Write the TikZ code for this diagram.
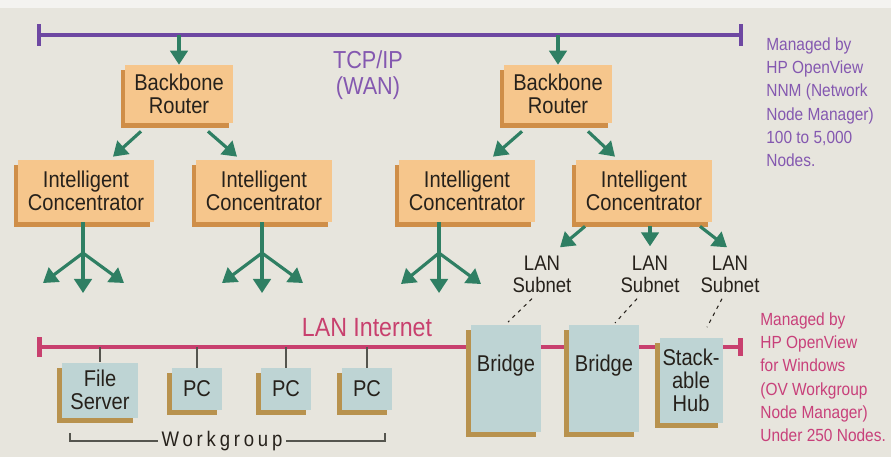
\documentclass[tikz,border=0pt]{standalone}
\usepackage{fontspec}
\setmainfont{Liberation Sans}[FakeStretch=0.88]
\newfontfamily\spacedfont{Liberation Sans}[FakeStretch=0.88,LetterSpace=18]
\usepackage{xcolor}
\usetikzlibrary{arrows.meta,calc,shadows}
\definecolor{pagegrey}{HTML}{E7E5DD}
\definecolor{routerorange}{HTML}{F6C68C}
\definecolor{routershade}{HTML}{CF8E48}
\definecolor{hostblue}{HTML}{BED4D4}
\definecolor{hostshade}{HTML}{B8924E}
\definecolor{arrowteal}{HTML}{2F7F63}
\definecolor{wanpurple}{HTML}{6E48A2}
\definecolor{notepurple}{HTML}{8458B0}
\definecolor{lancrimson}{HTML}{C8406E}
\definecolor{notecrimson}{HTML}{C8407A}
\definecolor{inkbrown}{HTML}{26211B}
\definecolor{stubgrey}{HTML}{55554E}
\newcommand\diagboxfont{\fontsize{13}{13}\selectfont}
\tikzset{
	orangebox/.style={
			fill=routerorange, text=inkbrown, align=center, inner sep=0pt,
			font=\diagboxfont,
			general shadow={fill=routershade, shadow xshift=-0.08cm, shadow yshift=-0.1cm}
		},
	bluebox/.style={
			fill=hostblue, text=inkbrown, align=center, inner sep=0pt,
			font=\diagboxfont,
			general shadow={fill=hostshade, shadow xshift=-0.1cm, shadow yshift=-0.1cm}
		},
	trunk/.style={draw=arrowteal, line width=1.8pt},
	feed/.style={trunk, -{Triangle[length=8pt,width=10pt]}},
	wanbus/.style={draw=wanpurple, line width=2.3pt, {Bar[width=12pt]}-{Bar[width=12pt]}},
	lanbus/.style={draw=lancrimson, line width=2.6pt, {Bar[width=11pt]}-{Bar[width=10pt]}},
	stub/.style={draw=stubgrey, line width=1.1pt},
	subnetlink/.style={draw=inkbrown, line width=0.6pt, dash pattern=on 2pt off 2.5pt},
	sidenote/.style={align=left, inner sep=0pt, anchor=north west, font=\fontsize{10}{13.3}\selectfont}
}

\begin{document}
\begin{tikzpicture}[x=0.02cm, y=-0.02cm]
    \useasboundingbox (0,0) rectangle (891,457);
    \fill[pagegrey] (0,0) rectangle (891,457);
    \fill[white!55!pagegrey] (0,0) rectangle (891,8);
    \coordinate (wan-l) at (37,35);
    \coordinate (wan-r) at (743,35);
    \coordinate (lan-l) at (37,347);
    \coordinate (lan-r) at (743,347);
    \draw[wanbus] (wan-l) -- (wan-r);
    \draw[lanbus] (lan-l) -- (lan-r);
    \node[text=notepurple, align=center, inner sep=0pt, font=\fontsize{14}{14.5}\selectfont] (wan) at (368,75) {TCP/IP\\(WAN)};
    \node[text=lancrimson, inner sep=0pt, font=\fontsize{15}{15}\selectfont] (lanlbl) at (367,328) {LAN Internet};
    \node[sidenote, text=notepurple] (nnm) at (766,37) {Managed by\\HP OpenView\\NNM (Network\\Node Manager)\\100 to 5,000\\Nodes.};
    \node[sidenote, text=notecrimson] (ovw) at (760,312) {Managed by\\HP OpenView\\for Windows\\(OV Workgroup\\Node Manager)\\Under 250 Nodes.};
    \node[orangebox, minimum width=2.16cm, minimum height=1.16cm] (br1) at (179,94) {Backbone\\Router};
    \node[orangebox, minimum width=2.16cm, minimum height=1.16cm] (br2) at (558,94) {Backbone\\Router};
    \node[orangebox, minimum width=2.72cm, minimum height=1.24cm] (ic1) at (86,191) {Intelligent\\Concentrator};
    \node[orangebox, minimum width=2.72cm, minimum height=1.24cm] (ic2) at (264,191) {Intelligent\\Concentrator};
    \node[orangebox, minimum width=2.72cm, minimum height=1.24cm] (ic3) at (467,191) {Intelligent\\Concentrator};
    \node[orangebox, minimum width=2.72cm, minimum height=1.24cm] (ic4) at (644,191) {Intelligent\\Concentrator};
    \node[align=center, inner sep=0pt, text=inkbrown, font=\fontsize{12}{12.5}\selectfont] (ls1) at (542,274) {LAN\\Subnet};
    \node[align=center, inner sep=0pt, text=inkbrown, font=\fontsize{12}{12.5}\selectfont] (ls2) at (650,274) {LAN\\Subnet};
    \node[align=center, inner sep=0pt, text=inkbrown, font=\fontsize{12}{12.5}\selectfont] (ls3) at (730,274) {LAN\\Subnet};
    \node[bluebox, minimum width=1.4cm, text height=0.92cm, text depth=1.22cm, anchor=north] (bg1) at (506,325) {Bridge};
    \node[bluebox, minimum width=1.4cm, text height=0.92cm, text depth=1.22cm, anchor=north] (bg2) at (604,325) {Bridge};
    \node[bluebox, minimum width=1.26cm, minimum height=1.7cm] (hub) at (691,380) {Stack-\\able\\Hub};
    \node[bluebox, minimum width=1.52cm, minimum height=1.1cm] (fs) at (100,390) {File\\Server};
    \node[bluebox, minimum width=1.0cm, minimum height=0.84cm] (pc1) at (197,389) {PC};
    \node[bluebox, minimum width=1.0cm, minimum height=0.84cm] (pc2) at (286,389) {PC};
    \node[bluebox, minimum width=1.0cm, minimum height=0.84cm] (pc3) at (367,389) {PC};
    \draw[feed] (br1.north |- wan-l) -- (br1.north);
    \draw[feed] (br2.north |- wan-l) -- (br2.north);
    \draw[feed] ($(br1.south)+(-38,8)$) -- ($(ic1.north)+(27,-3)$);
    \draw[feed] ($(br1.south)+(29,8)$) -- ($(ic2.north)+(-27,-3)$);
    \draw[feed] ($(br2.south)+(-36,8)$) -- ($(ic3.north)+(26,-3)$);
    \draw[feed] ($(br2.south)+(30,8)$) -- ($(ic4.north)+(-29,-3)$);
    \coordinate (f1) at (83,253);
    \coordinate (f2) at (262,253);
    \coordinate (f3) at (439,253);
    \draw[trunk] (ic1.south -| f1) -- (f1);
    \draw[trunk] (ic2.south -| f2) -- (f2);
    \draw[trunk] (ic3.south -| f3) -- (f3);
    \draw[feed] (f1) -- ++(-40,30);
    \draw[feed] (f1) -- ++(0,40);
    \draw[feed] (f1) -- ++(41,30);
    \draw[feed] (f2) -- ++(-40,30);
    \draw[feed] (f2) -- ++(0,40);
    \draw[feed] (f2) -- ++(41,30);
    \draw[feed] (f3) -- ++(-38,31);
    \draw[feed] (f3) -- ++(0,40);
    \draw[feed] (f3) -- ++(42,31);
    \draw[feed] ($(ic4.south)+(-59,4)$) -- ($(ls1.north)+(18,-8)$);
    \draw[feed] ($(ic4.south)+(6,4)$) -- ($(ls2.north)+(0,-9)$);
    \draw[feed] ($(ic4.south)+(56,4)$) -- ($(ls3.north)+(-3,-8)$);
    \draw[subnetlink] ($(ls1.south)+(-10,6)$) -- ($(bg1.north)+(2,-3)$);
    \draw[subnetlink] ($(ls2.south)+(-13,6)$) -- ($(bg2.north)+(11,-2)$);
    \draw[subnetlink] ($(ls3.south)+(-8,6)$) -- ($(hub.north)+(16,-10)$);
    \draw[stub] (fs.north |- lan-l) -- (fs.north);
    \draw[stub] (pc1.north |- lan-l) -- (pc1.north);
    \draw[stub] (pc2.north |- lan-l) -- (pc2.north);
    \draw[stub] (pc3.north |- lan-l) -- (pc3.north);
    \node[inner sep=2pt, text=inkbrown, font=\spacedfont\fontsize{12}{12}\selectfont] (wg) at (222,441) {Workgroup};
    \coordinate (wg-l) at (70,433);
    \coordinate (wg-r) at (385,433);
    \draw[draw=stubgrey, line width=0.6pt] (wg.west) -| (wg-l);
    \draw[draw=stubgrey, line width=0.6pt] (wg.east) -| (wg-r);
\end{tikzpicture}
\end{document}
